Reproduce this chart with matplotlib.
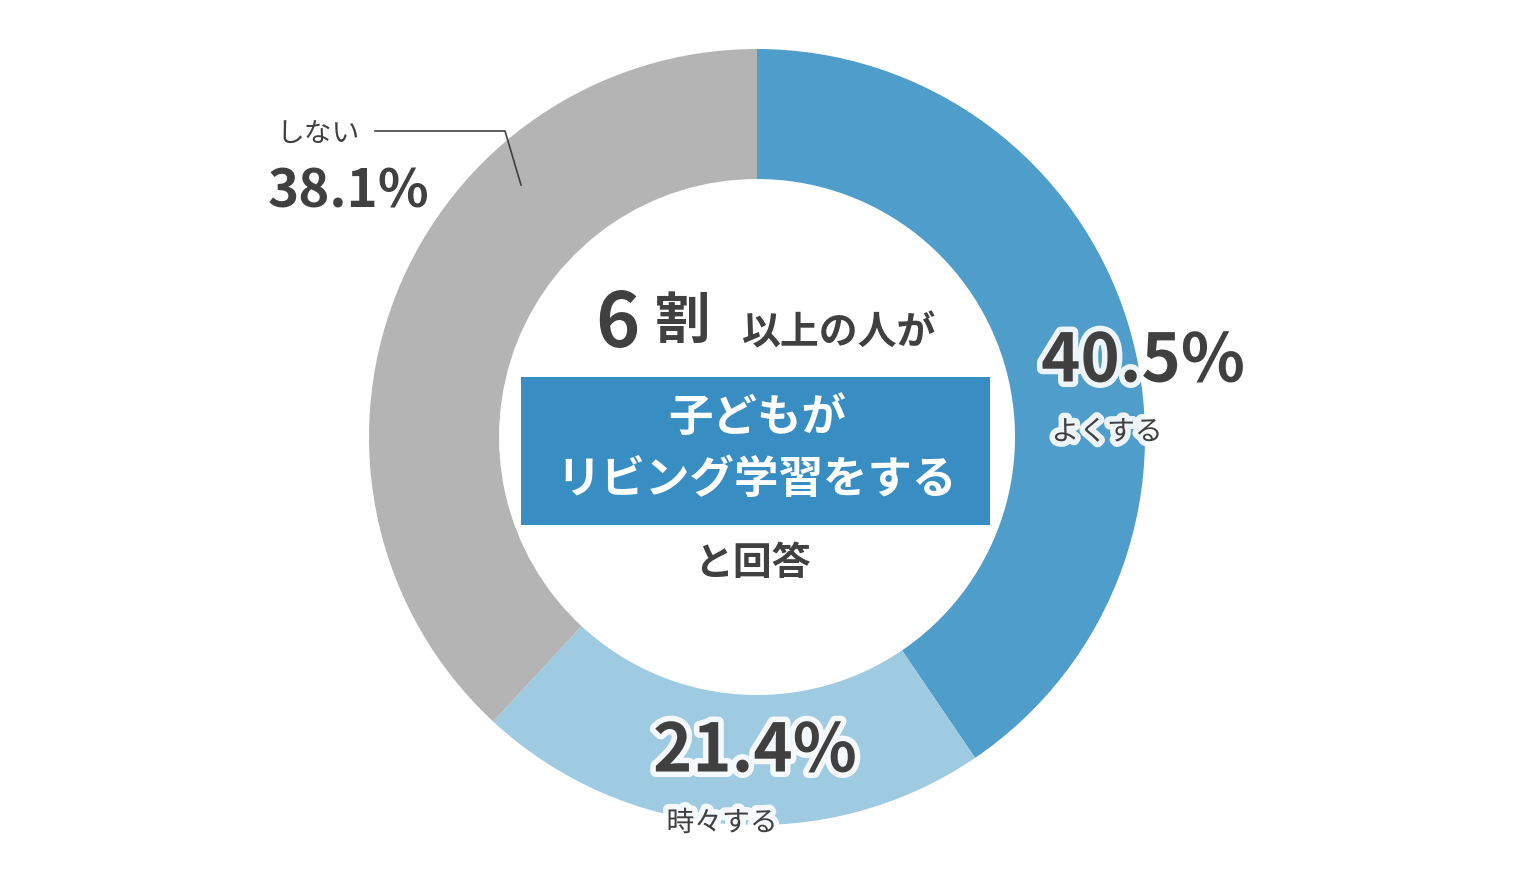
import matplotlib
matplotlib.use("Agg")
import matplotlib.pyplot as plt
import matplotlib.patheffects as pe
from matplotlib.patches import Rectangle

labels = ["よくする", "時々する", "しない"]
values = [40.5, 21.4, 38.1]
colors = ["#4f9dcb", "#9ecae2", "#b4b4b4"]

plt.rcParams["font.family"] = "Noto Sans CJK JP"
W, H = 1520, 885
fig = plt.figure(figsize=(15.2, 8.85), dpi=100)
ax = fig.add_axes([0, 0, 1, 1])
ax.set_xlim(0, W); ax.set_ylim(0, H); ax.set_aspect("equal"); ax.axis("off")

cx, cy = 757, H - 437
ax.pie(values, colors=colors, startangle=90, counterclock=False, center=(cx, cy),
       radius=388, wedgeprops=dict(width=130, linewidth=0), frame=True)
ax.set_xlim(0, W); ax.set_ylim(0, H); ax.axis("off")

dark = "#404040"
glow = [pe.withStroke(linewidth=8, foreground="white", alpha=0.9)]

def Y(py): return H - py

ax.text(1143, Y(362), f"{values[0]}%", fontsize=48, fontweight="bold", color=dark, ha="center", va="center", path_effects=glow)
ax.text(1107, Y(432), labels[0], fontsize=20, color=dark, ha="center", va="center", path_effects=glow)
ax.text(755, Y(752), f"{values[1]}%", fontsize=48, fontweight="bold", color=dark, ha="center", va="center", path_effects=glow)
ax.text(722, Y(823), labels[1], fontsize=20, color=dark, ha="center", va="center", path_effects=glow)
ax.text(348, Y(192), f"{values[2]}%", fontsize=38, fontweight="bold", color=dark, ha="center", va="center")
ax.text(318, Y(135), labels[2], fontsize=20, color=dark, ha="center", va="center")
ax.plot([375, 505, 521], [Y(131), Y(131), Y(185)], color=dark, lw=1.2)

ax.text(617, Y(325), "6", fontsize=54, fontweight="bold", color=dark, ha="center", va="center")
ax.text(683, Y(322), "割", fontsize=40, fontweight="bold", color=dark, ha="center", va="center")
ax.text(838, Y(333), "以上の人が", fontsize=28, fontweight="bold", color=dark, ha="center", va="center")
ax.add_patch(Rectangle((521, Y(525)), 469, 148, color="#388dc2", lw=0))
ax.text(757, Y(418), "子どもが", fontsize=32, fontweight="bold", color="white", ha="center", va="center")
ax.text(757, Y(480), "リビング学習をする", fontsize=32, fontweight="bold", color="white", ha="center", va="center")
ax.text(752, Y(563), "と回答", fontsize=28, fontweight="bold", color=dark, ha="center", va="center")

fig.savefig("out.png", dpi=100)
